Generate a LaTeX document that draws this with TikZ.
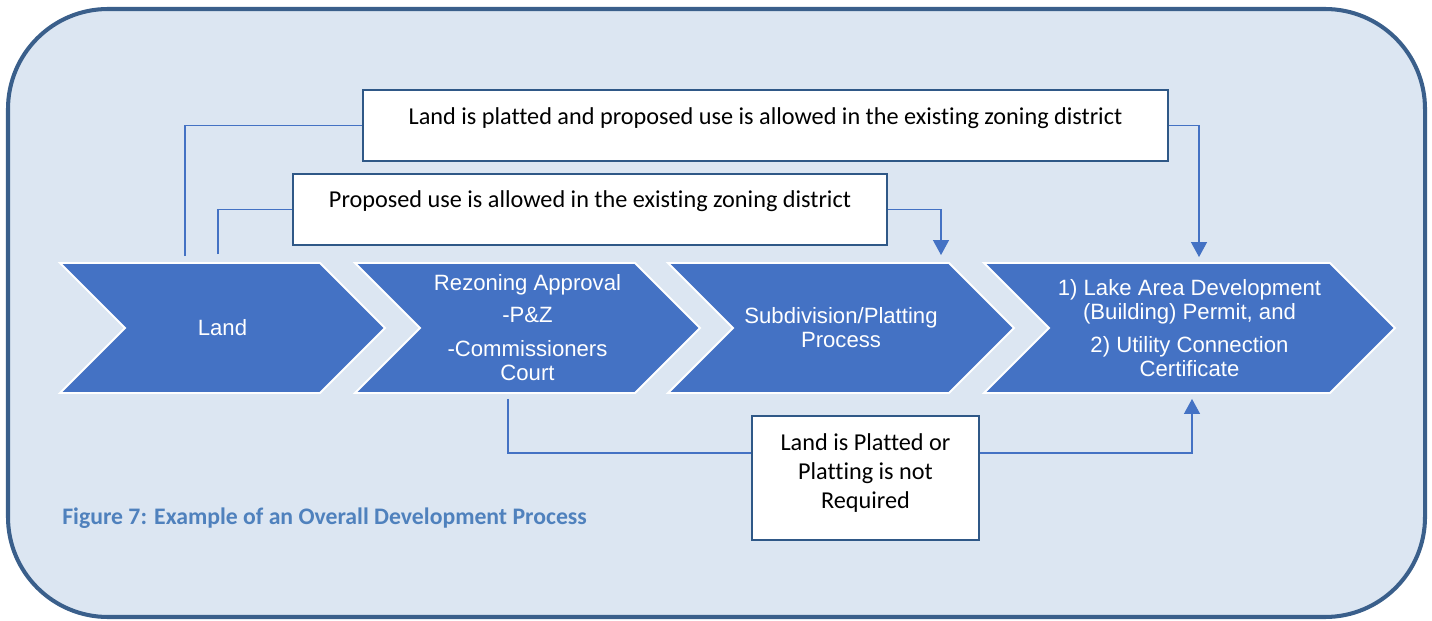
\documentclass[tikz,border=0pt]{standalone}
\usepackage{fontspec}
\setmainfont[Ligatures=NoCommon]{Carlito}
\newfontfamily\arialfont{Liberation Sans}
\usepackage{tikz}
\usetikzlibrary{calc,arrows.meta,shapes.symbols}
\definecolor{bgfill}{HTML}{DCE6F2}
\definecolor{frameblue}{HTML}{3A5F8B}
\definecolor{chevblue}{HTML}{4472C4}
\definecolor{boxline}{HTML}{2F5887}
\definecolor{capblue}{HTML}{4F81BD}

\begin{document}
\begin{tikzpicture}[x=0.02cm,y=-0.02cm,
    chev/.style={signal, signal from=west, signal to=east, signal pointer angle=90,
        fill=chevblue, draw=white, line width=1.1pt, minimum height=2.6cm,
        text=white, align=center, inner sep=0pt, font=\arialfont\fontsize{12.6}{13.7}\selectfont},
    condbox/.style={draw=boxline, line width=1.1pt, fill=white, inner sep=0pt,
        font=\fontsize{13.8}{16.5}\selectfont, align=center},
    conn/.style={draw=chevblue, line width=0.7pt},
    arr/.style={-{Triangle[length=0.3cm,width=0.32cm]}}]
            \useasboundingbox (0,0) rectangle (1432,621);
            \draw[frameblue, fill=bgfill, line width=2.3pt, rounded corners=2cm] (8,9) rectangle (1425,617);

            \node[chev, minimum width=6.5cm] (land) at (222.5,328) {Land};
            \node[chev, minimum width=6.9cm] (rezone) at (527.5,328) {Rezoning Approval\\[4.5pt]-P\&Z\\[5.6pt]-Commissioners\\Court};
            \node[chev, minimum width=6.92cm] (plat) at (841,328) {Subdivision/Platting\\Process};
            \node[chev, minimum width=8.22cm] (permit) at (1189.5,328) {1) Lake Area Development\\(Building) Permit, and\\[5.1pt]2) Utility Connection\\Certificate};

            \node[condbox, minimum width=16.1cm, minimum height=1.42cm, text depth=0.36cm] (platbox) at (765.5,125.5) {Land is platted and proposed use is allowed in the existing zoning district};
            \node[condbox, minimum width=11.88cm, minimum height=1.42cm, text depth=0.4cm] (zonebox) at (590,209.5) {Proposed use is allowed in the existing zoning district};
            \node[condbox, minimum width=4.54cm, minimum height=2.48cm, text depth=0.27cm] (reqbox) at (865.5,478) {Land is Platted or\\Platting is not\\Required};

            \node[anchor=west, inner sep=0pt, text=capblue, font=\bfseries\fontsize{13.5}{16}\selectfont] (caption) at (62,518) {Figure 7: Example of an Overall Development Process};

            \draw[conn] ($(land.north)+(-37.5,-6)$) |- (platbox.west);
            \draw[conn,arr] (platbox.east) -| ($(permit.north)+(9.5,-5)$);
            \draw[conn] ($(land.north)+(-4.5,-8)$) |- (zonebox.west);
            \draw[conn,arr] (zonebox.east) -| ($(plat.north)+(100,-7)$);
            \draw[conn] ($(rezone.south)+(-19.5,5)$) |- ($(reqbox.west)+(0,-25)$);
            \draw[conn,arr] ($(reqbox.east)+(0,-25)$) -| ($(permit.south)+(2.5,5)$);
        \end{tikzpicture}
\end{document}
